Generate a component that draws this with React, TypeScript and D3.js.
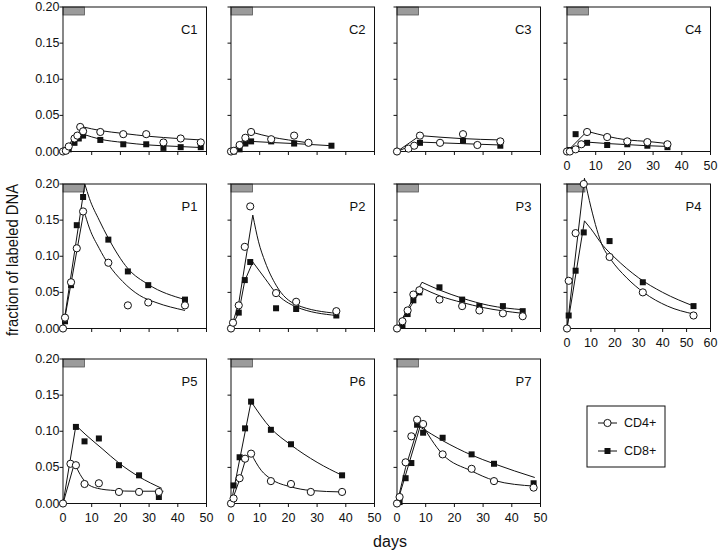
import React, { useRef, useEffect } from 'react';
import * as d3 from 'd3';

type Pt = [number, number];

// measured points [day, fraction] and fitted curve knots, per patient/control
const c1Cd4: Pt[] = [[0, 0], [1, 0.001], [2, 0.007], [4, 0.018], [5, 0.022], [6, 0.034], [7, 0.028], [13, 0.027], [21, 0.024], [29, 0.024], [35, 0.0125], [41, 0.018], [48, 0.0125]];
const c1Cd8: Pt[] = [[1, 0.001], [2, 0.003], [4, 0.012], [5.5, 0.018], [7, 0.022], [13, 0.016], [21, 0.01], [29, 0.01], [35, 0.005], [41, 0.006], [48, 0.006]];
const c1Fit4: Pt[] = [[0, 0], [7, 0.034], [13, 0.029], [21, 0.025], [30, 0.021], [40, 0.018], [48, 0.016]];
const c1Fit8: Pt[] = [[0, 0], [7, 0.024], [13, 0.017], [21, 0.0125], [30, 0.009], [40, 0.007], [48, 0.0055]];

const c2Cd4: Pt[] = [[0, 0], [1, 0.001], [3, 0.009], [5, 0.019], [7, 0.027], [14, 0.017], [22, 0.022], [27, 0.012]];
const c2Cd8: Pt[] = [[1, 0], [3, 0.003], [5, 0.011], [7, 0.014], [14, 0.014], [22, 0.011], [35, 0.008]];
const c2Fit4: Pt[] = [[0, 0], [7, 0.027], [14, 0.02], [20, 0.016], [27, 0.012]];
const c2Fit8: Pt[] = [[0, 0], [7, 0.014], [14, 0.0125], [22, 0.011], [35, 0.008]];

const c3Cd4: Pt[] = [[0, 0], [4, 0.004], [6, 0.008], [8, 0.022], [15, 0.012], [23, 0.024], [28, 0.009], [36, 0.014]];
const c3Cd8: Pt[] = [[8, 0.012], [23, 0.015], [36, 0.008]];
const c3Fit4: Pt[] = [[0, 0], [8, 0.022], [22, 0.018], [36, 0.016]];
const c3Fit8: Pt[] = [[0, 0], [8, 0.013], [22, 0.011], [36, 0.009]];

const c4Cd4: Pt[] = [[0, 0], [1, 0], [3, 0.003], [5, 0.01], [7, 0.027], [14, 0.02], [21, 0.014], [28, 0.013], [35, 0.01]];
const c4Cd8: Pt[] = [[1, 0.002], [3, 0.024], [7, 0.012], [14, 0.009], [21, 0.01], [28, 0.008], [35, 0.006]];
const c4Fit4: Pt[] = [[0, 0], [7, 0.028], [14, 0.021], [21, 0.016], [28, 0.014], [35, 0.011]];
const c4Fit8: Pt[] = [[0, 0], [7, 0.013], [14, 0.011], [21, 0.0095], [28, 0.008], [35, 0.007]];

const p1Cd4: Pt[] = [[0, 0], [0.7, 0.015], [2.8, 0.064], [4.8, 0.111], [7, 0.162], [15.8, 0.091], [22.6, 0.032], [29.7, 0.036], [42.5, 0.032]];
const p1Cd8: Pt[] = [[0.7, 0.01], [2.8, 0.06], [4.8, 0.143], [7, 0.182], [15.8, 0.123], [22.6, 0.079], [29.7, 0.06], [42.5, 0.04]];
const p1Fit4: Pt[] = [[0, 0], [7.3, 0.163], [9.2, 0.139], [12.6, 0.111], [15.8, 0.089], [20.8, 0.065], [26.6, 0.046], [32.4, 0.036], [42.5, 0.025]];
const p1Fit8: Pt[] = [[0, 0], [7.6, 0.2], [9.2, 0.18], [12.6, 0.15], [15.8, 0.125], [22.6, 0.083], [29.7, 0.061], [42.5, 0.04]];

const p2Cd4: Pt[] = [[0, 0], [0.7, 0.008], [2.7, 0.032], [4.8, 0.113], [6.7, 0.169], [15.7, 0.049], [22.7, 0.037], [36.7, 0.024]];
const p2Cd8: Pt[] = [[2.7, 0.022], [4.8, 0.067], [6.7, 0.092], [15.7, 0.028], [22.7, 0.027], [36.7, 0.018]];
const p2Fit4: Pt[] = [[0, 0], [2.7, 0.035], [7.6, 0.157], [9.6, 0.12], [11.9, 0.092], [15.7, 0.06], [22.7, 0.033], [36.7, 0.021]];
const p2Fit8: Pt[] = [[0, 0], [2.7, 0.022], [4.8, 0.066], [7.6, 0.092], [11.9, 0.069], [15.7, 0.049], [22.7, 0.03], [36.7, 0.018]];

const p3Cd4: Pt[] = [[0, 0], [1.9, 0.01], [3.7, 0.025], [5.7, 0.047], [7.8, 0.053], [14.8, 0.04], [22.7, 0.031], [28.7, 0.025], [36.9, 0.021], [43.8, 0.017]];
const p3Cd8: Pt[] = [[1.9, 0.004], [3.7, 0.02], [5.7, 0.039], [7.8, 0.05], [14.8, 0.057], [22.7, 0.04], [28.7, 0.031], [36.9, 0.031], [43.8, 0.024]];
const p3Fit4: Pt[] = [[0, 0], [8.7, 0.056], [15, 0.045], [22.7, 0.036], [30, 0.029], [43.8, 0.021]];
const p3Fit8: Pt[] = [[0, 0], [8.7, 0.064], [15, 0.053], [22.7, 0.042], [32, 0.032], [43.8, 0.026]];

const p4Cd4: Pt[] = [[0, 0], [0.7, 0.066], [3.6, 0.132], [7, 0.2], [17.8, 0.099], [31.7, 0.05], [52.9, 0.018]];
const p4Cd8: Pt[] = [[0.7, 0.018], [3.6, 0.08], [7, 0.133], [17.8, 0.121], [31.7, 0.064], [52.9, 0.031]];
const p4Fit4: Pt[] = [[0, 0], [7.3, 0.208], [10, 0.168], [15, 0.113], [18, 0.097], [25, 0.07], [32, 0.05], [42, 0.031], [53, 0.02]];
const p4Fit8: Pt[] = [[0, 0], [7.3, 0.149], [10, 0.138], [15, 0.115], [20, 0.098], [30, 0.07], [40, 0.05], [53, 0.031]];

const p5Cd4: Pt[] = [[0, 0], [2.6, 0.055], [4.5, 0.053], [7.5, 0.027], [12.5, 0.028], [19.5, 0.016], [26.5, 0.016], [33.4, 0.016]];
const p5Cd8: Pt[] = [[4.5, 0.106], [7.5, 0.086], [12.5, 0.09], [19.5, 0.053], [26.5, 0.039], [33.4, 0.009]];
const p5Fit4: Pt[] = [[0, 0], [4, 0.056], [6, 0.04], [8, 0.029], [12, 0.021], [18, 0.018], [25, 0.017], [35, 0.017]];
const p5Fit8: Pt[] = [[0, 0], [4.5, 0.108], [8, 0.095], [13.6, 0.076], [19.5, 0.056], [26.5, 0.037], [34.4, 0.021]];

const p6Cd4: Pt[] = [[0, 0], [0.9, 0.007], [3, 0.035], [4.9, 0.062], [7, 0.069], [13.9, 0.031], [20.9, 0.027], [27.8, 0.016], [38.7, 0.016]];
const p6Cd8: Pt[] = [[0.9, 0.025], [3, 0.064], [4.9, 0.104], [7, 0.141], [13.9, 0.102], [20.9, 0.082], [38.7, 0.039]];
const p6Fit4: Pt[] = [[0, 0], [3, 0.033], [5, 0.06], [7, 0.069], [10.5, 0.046], [13.9, 0.034], [20.9, 0.023], [27.8, 0.018], [38.7, 0.016]];
const p6Fit8: Pt[] = [[0, 0], [7, 0.141], [13.9, 0.104], [20.9, 0.081], [30, 0.057], [38.7, 0.039]];

const p7Cd4: Pt[] = [[0, 0], [0.9, 0.009], [3, 0.057], [5, 0.093], [7, 0.116], [9.1, 0.11], [15.9, 0.068], [26, 0.048], [33.8, 0.031], [47.6, 0.022]];
const p7Cd8: Pt[] = [[0.9, 0.002], [3, 0.035], [5, 0.056], [7, 0.109], [9.1, 0.098], [15.9, 0.091], [26, 0.068], [33.8, 0.055], [47.6, 0.028]];
const p7Fit4: Pt[] = [[0, 0], [3, 0.05], [8, 0.114], [15.9, 0.068], [26, 0.045], [33.8, 0.032], [48, 0.024]];
const p7Fit8: Pt[] = [[0, 0], [8, 0.106], [15.9, 0.087], [26, 0.067], [33.8, 0.055], [48, 0.036]];

const panelNames = ['C1', 'C2', 'C3', 'C4', 'P1', 'P2', 'P3', 'P4', 'P5', 'P6', 'P7'];
const panelXMax = [50, 50, 50, 50, 50, 50, 50, 60, 50, 50, 50];
const yTicks = [0, 0.05, 0.1, 0.15, 0.2];
const labelPeriod = 7.5; // grey bar, days
const legendLabels = ['CD4+', 'CD8+'];

const App: React.FC = () => {
  const svgRef = useRef<SVGSVGElement | null>(null);

  useEffect(() => {
    const svg = d3.select(svgRef.current);
    svg.selectAll('*').remove();

    const font = '"Liberation Sans", Arial, Helvetica, sans-serif';
    const colLeft = [63, 231, 397, 567];
    const rowTop = [7, 184, 359];
    const pw = 143.5;
    const ph = 144.5;

    const series = [
      [c1Cd4, c1Cd8, c1Fit4, c1Fit8], [c2Cd4, c2Cd8, c2Fit4, c2Fit8],
      [c3Cd4, c3Cd8, c3Fit4, c3Fit8], [c4Cd4, c4Cd8, c4Fit4, c4Fit8],
      [p1Cd4, p1Cd8, p1Fit4, p1Fit8], [p2Cd4, p2Cd8, p2Fit4, p2Fit8],
      [p3Cd4, p3Cd8, p3Fit4, p3Fit8], [p4Cd4, p4Cd8, p4Fit4, p4Fit8],
      [p5Cd4, p5Cd8, p5Fit4, p5Fit8], [p6Cd4, p6Cd8, p6Fit4, p6Fit8],
      [p7Cd4, p7Cd8, p7Fit4, p7Fit8],
    ];

    const panels = panelNames.map((name, i) => ({
      name,
      xMax: panelXMax[i],
      row: Math.floor(i / 4),
      col: i % 4,
      cd4: series[i][0], cd8: series[i][1], fit4: series[i][2], fit8: series[i][3],
    }));

    // rising part straight, decay smooth
    const fitPath = (pts: Pt[], x: d3.ScaleLinear<number, number>, y: d3.ScaleLinear<number, number>) => {
      const peak = d3.maxIndex(pts, d => d[1]);
      const lin = d3.line<Pt>().x(d => x(d[0])).y(d => y(d[1]));
      const rise = lin(pts.slice(0, peak + 1)) || '';
      const fall = lin.curve(d3.curveMonotoneX)(pts.slice(peak)) || '';
      return rise + fall.replace(/^M/, 'L');
    };

    panels.forEach(p => {
      const left = colLeft[p.col];
      const top = rowTop[p.row];
      const x = d3.scaleLinear().domain([0, p.xMax]).range([left, left + pw]);
      const y = d3.scaleLinear().domain([0, 0.2]).range([top + ph, top]);
      const g = svg.append('g');

      // labelling period bar
      g.append('rect')
        .attr('x', x(0)).attr('y', top)
        .attr('width', x(labelPeriod) - x(0)).attr('height', 8)
        .attr('fill', '#9b9b9b').attr('stroke', '#555').attr('stroke-width', 0.8);

      g.append('rect')
        .attr('x', left).attr('y', top).attr('width', pw).attr('height', ph)
        .attr('fill', 'none').attr('stroke', '#111').attr('stroke-width', 1);

      // ticks
      const xt = d3.range(0, p.xMax + 1, 10);
      g.selectAll('.xt').data(xt).enter().append('line')
        .attr('x1', d => x(d)).attr('x2', d => x(d))
        .attr('y1', top + ph).attr('y2', top + ph + 3.5)
        .attr('stroke', '#111');
      g.selectAll('.yt').data(yTicks).enter().append('line')
        .attr('x1', left - 3.5).attr('x2', left)
        .attr('y1', d => y(d)).attr('y2', d => y(d))
        .attr('stroke', '#111');

      if (p.col === 0) {
        g.selectAll('.yl').data(yTicks).enter().append('text')
          .attr('x', left - 3.5).attr('y', d => y(d))
          .attr('text-anchor', 'end').attr('dominant-baseline', 'central')
          .attr('font-family', font).attr('font-size', 12.5).attr('fill', '#111')
          .text(d => d3.format('.2f')(d));
      }
      if (p.row === 2 || p.col === 3) {
        g.selectAll('.xl').data(xt).enter().append('text')
          .attr('x', d => x(d)).attr('y', top + ph + 18)
          .attr('text-anchor', 'middle')
          .attr('font-family', font).attr('font-size', 12.5).attr('fill', '#111')
          .text(d => d);
      }

      g.append('text')
        .attr('x', left + pw - 9).attr('y', top + 27)
        .attr('text-anchor', 'end')
        .attr('font-family', font).attr('font-size', 13).attr('fill', '#111')
        .text(p.name);

      [p.fit4, p.fit8].forEach(f => {
        g.append('path').attr('d', fitPath(f, x, y))
          .attr('fill', 'none').attr('stroke', '#111').attr('stroke-width', 1);
      });

      g.selectAll('.sq').data(p.cd8).enter().append('rect')
        .attr('x', d => x(d[0]) - 3).attr('y', d => y(d[1]) - 3)
        .attr('width', 6).attr('height', 6).attr('fill', '#111');

      g.selectAll('.ci').data(p.cd4).enter().append('circle')
        .attr('cx', d => x(d[0])).attr('cy', d => y(d[1])).attr('r', 3.6)
        .attr('fill', '#fff').attr('stroke', '#111').attr('stroke-width', 1);
    });

    // axis titles
    svg.append('text')
      .attr('x', 390).attr('y', 547).attr('text-anchor', 'middle')
      .attr('font-family', font).attr('font-size', 16).attr('fill', '#111')
      .text('days');
    svg.append('text')
      .attr('transform', 'translate(18,260) rotate(-90)')
      .attr('text-anchor', 'middle')
      .attr('font-family', font).attr('font-size', 16).attr('fill', '#111')
      .attr('textLength', 152).attr('lengthAdjust', 'spacingAndGlyphs')
      .text('fraction of labeled DNA');

    // legend
    const lg = svg.append('g');
    lg.append('rect').attr('x', 587).attr('y', 406).attr('width', 78).attr('height', 61)
      .attr('fill', '#fff').attr('stroke', '#111').attr('stroke-width', 1);
    legendLabels.forEach((lab, i) => {
      const cy = 423 + i * 28;
      lg.append('line').attr('x1', 598).attr('x2', 617).attr('y1', cy).attr('y2', cy).attr('stroke', '#111');
      if (i === 0) {
        lg.append('circle').attr('cx', 607.5).attr('cy', cy).attr('r', 3.6)
          .attr('fill', '#fff').attr('stroke', '#111');
      } else {
        lg.append('rect').attr('x', 604.5).attr('y', cy - 3).attr('width', 6).attr('height', 6).attr('fill', '#111');
      }
      lg.append('text').attr('x', 624).attr('y', cy).attr('dominant-baseline', 'central')
        .attr('font-family', font).attr('font-size', 12.5).attr('fill', '#111')
        .text(lab);
    });
  }, []);

  return (
    <svg ref={svgRef} width={720} height={554}
      style={{ position: 'absolute', left: 0, top: 0, background: '#fff' }} />
  );
};

export default App;
